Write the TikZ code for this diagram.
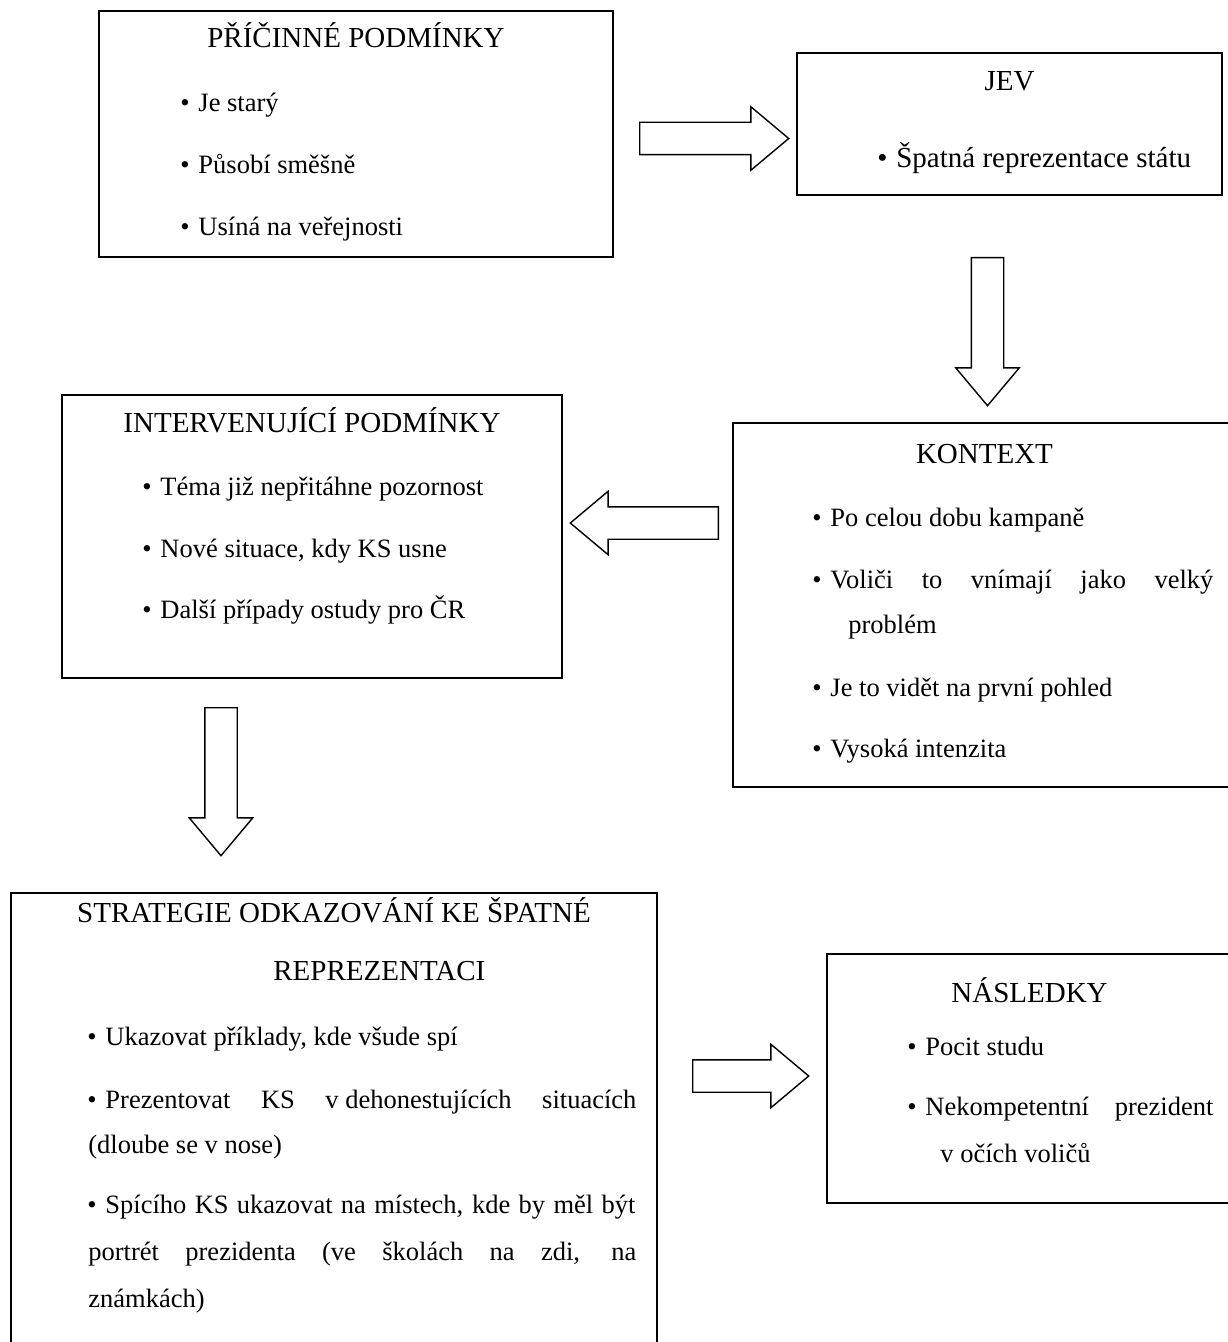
\documentclass[tikz,border=0pt]{standalone}
\usepackage{fontspec}
\setmainfont{Liberation Serif}
\usetikzlibrary{shapes.arrows}
\newcommand{\bodyfont}{\fontsize{13.25pt}{16pt}\selectfont}
\newcommand{\titlefont}{\fontsize{14.5pt}{17pt}\selectfont}
\newcommand{\bul}{•\hspace{4.4pt}}

\begin{document}
\begin{tikzpicture}[x=0.5pt, y=-0.5pt,
    box/.style={draw, line width=0.8pt, inner sep=0pt},
    title/.style={anchor=base, inner sep=0pt, font=\titlefont},
    txt/.style={anchor=base west, inner sep=0pt, font=\bodyfont},
    blockarrow/.style={draw, line width=0.7pt, single arrow, anchor=tail,
      inner xsep=0pt, inner ysep=7.75pt, single arrow head extend=7.75pt,
      single arrow tip angle=80, minimum height=74pt}]
  \useasboundingbox[fill=white] (0,0) rectangle (1227,1342);
  % Define boxes
  \node[box, minimum width=257pt, minimum height=123pt]   (pric)   at (356,134) {};
  \node[box, minimum width=212.5pt, minimum height=71pt]  (jev)    at (1009.5,124) {};
  \node[box, minimum width=250pt, minimum height=141.5pt] (interv) at (312,536.5) {};
  \node[box, minimum width=251.5pt, minimum height=182pt] (kont)   at (984.5,605) {};
  \node[box, minimum width=323pt, minimum height=233.5pt] (strat)  at (334,1126.5) {};
  \node[box, minimum width=202.5pt, minimum height=124.5pt] (nasl) at (1029.5,1078.5) {};
  % Texts
  \node[title] (pric-t) at (356,48) {PŘÍČINNÉ PODMÍNKY};
  \node[txt] (pric-1) at (180,112) {\bul Je starý};
  \node[txt] (pric-2) at (180,174) {\bul Působí směšně};
  \node[txt] (pric-3) at (180,236) {\bul Usíná na veřejnosti};

  \node[title] (jev-t) at (1009.5,91) {JEV};
  \node[txt, font=\titlefont] (jev-1) at (877,168) {\bul Špatná reprezentace státu};

  \node[title] (interv-t) at (312,432) {INTERVENUJÍCÍ PODMÍNKY};
  \node[txt] (interv-1) at (142,495) {\bul Téma již nepřitáhne pozornost};
  \node[txt] (interv-2) at (142,557) {\bul Nové situace, kdy KS usne};
  \node[txt] (interv-3) at (142,618) {\bul Další případy ostudy pro ČR};

  \node[title] (kont-t) at (984.5,463) {KONTEXT};
  \node[txt] (kont-1) at (812,526) {\bul Po celou dobu kampaně};
  \node[txt] (kont-2) at (812,588) {\makebox[200.5pt][s]{\bul Voliči to vnímají jako velký}};
  \node[txt] (kont-3) at (848,633) {problém};
  \node[txt] (kont-4) at (812,696) {\bul Je to vidět na první pohled};
  \node[txt] (kont-5) at (812,757) {\bul Vysoká intenzita};

  \node[title] (strat-t) at (334,922) {STRATEGIE ODKAZOVÁNÍ KE ŠPATNÉ};
  \node[title, anchor=base west] (strat-t2) at (273,980) {REPREZENTACI};
  \node[txt] (strat-1) at (87,1045) {\bul Ukazovat příklady, kde všude spí};
  \node[txt] (strat-2) at (87,1108) {\makebox[274.5pt][s]{\bul Prezentovat KS v\hspace{0.25em}dehonestujících situacích}};
  \node[txt] (strat-3) at (88,1153) {(dloube se v nose)};
  \node[txt] (strat-4) at (87,1213) {\makebox[274pt][s]{\bul Spícího KS ukazovat na místech, kde by měl být}};
  \node[txt] (strat-5) at (88,1260) {\makebox[274pt][s]{portrét prezidenta (ve školách na zdi, na}};
  \node[txt] (strat-6) at (88,1307) {známkách)};

  \node[title] (nasl-t) at (1029.5,1002) {NÁSLEDKY};
  \node[txt] (nasl-1) at (907,1055) {\bul Pocit studu};
  \node[txt] (nasl-2) at (907,1115) {\makebox[153pt][s]{\bul Nekompetentní prezident}};
  \node[txt] (nasl-3) at (940,1162) {v očích voličů};
  % Connect boxes
  \node[blockarrow, minimum height=74.5pt] (pric-jev) at (639,138.5) {};
  \node[blockarrow, rotate=-90] (jev-kont) at (987.5,257) {};
  \node[blockarrow, rotate=180] (kont-interv) at (719,523) {};
  \node[blockarrow, rotate=-90] (interv-strat) at (221,707) {};
  \node[blockarrow, minimum height=58pt] (strat-nasl) at (692,1076) {};
\end{tikzpicture}
\end{document}
